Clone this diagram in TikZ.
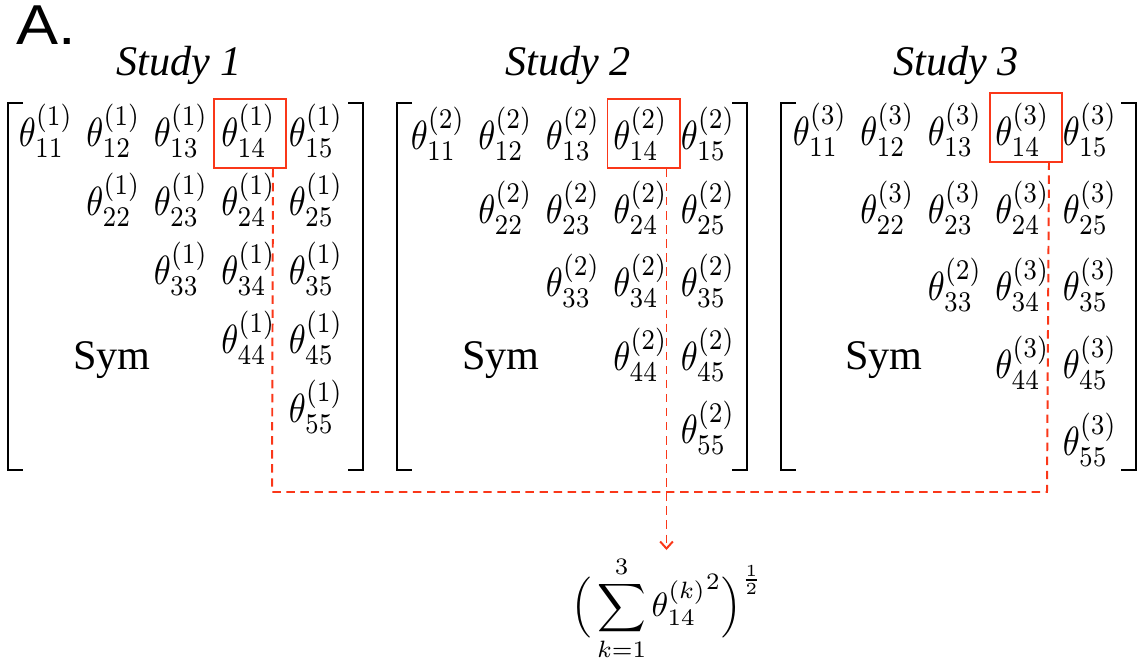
\RequirePackage{fix-cm}
\documentclass[tikz,border=0pt]{standalone}
\usepackage{amsmath}
\usepackage[no-math]{fontspec}
\setmainfont{Liberation Serif}
\newfontfamily\panelfont{Liberation Sans}
\usepackage{xcolor}
\usepackage{tikz}
\usetikzlibrary{positioning,arrows.meta,calc}
\definecolor{hired}{RGB}{250,55,25}

\begin{document}
\begin{tikzpicture}[x=0.025cm, y=-0.025cm,
  entry/.style={inner sep=0pt, xscale=2.45, yscale=2.9},
  study/.style={anchor=base, font=\fontsize{30}{36}\selectfont\itshape},
  symtext/.style={anchor=base, font=\fontsize{30}{36}\selectfont},
  hilite/.style={draw=hired, line width=1.4pt, minimum width=1.8cm, minimum height=1.72cm},
  link/.style={hired, line width=1.4pt, dash pattern=on 6pt off 4pt},
  bracket/.style={line width=1.4pt}]
\useasboundingbox (0,0) rectangle (1139,662);
% panel letter
\node[anchor=base west, inner sep=0pt, xscale=1.12, font=\panelfont\fontsize{40}{44}\selectfont] (panel) at (16,45) {A.};
% study titles
\node[study] (s1) at (179,76) {Study 1};
\node[study] (s2) at (568,76) {Study 2};
\node[study] (s3) at (956,76) {Study 3};
% upper triangles
\foreach \m/\cx/\ry/\rs in {1/46/131/69, 2/438/134/73.5, 3/820/130/77.5}{
  \foreach \i in {1,...,5}{
    \foreach \j in {\i,...,5}{
      \node[entry] (m\m-\i\j) at ({\cx+67.5*(\j-1)}, {\ry+\rs*(\i-1)})
        {$\theta_{\i\j}^{(\ifnum\m\i\j=333 2\else\m\fi)}$};
    }
  }
}
% brackets
\foreach \l/\r in {8/363, 397/747, 781/1136}{
  \draw[bracket] (\l+15,103) -- (\l,103) -- (\l,470) -- (\l+15,470);
  \draw[bracket] (\r-15,103) -- (\r,103) -- (\r,470) -- (\r-15,470);
}
% lower part
\node[symtext] (sym1) at (112,370) {Sym};
\node[symtext] (sym2) at (501,370) {Sym};
\node[symtext] (sym3) at (884,370) {Sym};
% highlighted entries
\node[hilite] (b1) at (250,133.5) {};
\node[hilite] (b2) at (643.5,133.5) {};
\node[hilite] (b3) at (1026,127.5) {};
% pooled norm
\node[xscale=2.4, yscale=2.4] (normsum) at (667,608)
  {$\Bigl(\,\displaystyle\sum_{k=1}^{3}{\theta_{14}^{(k)}}^{2}\Bigr)^{\frac{1}{2}}$};
% dashed links
\coordinate (t1) at ($(b1.south east)+(-14,0)$);
\coordinate (t2) at ($(b2.south east)+(-14,0)$);
\coordinate (t3) at ($(b3.south east)+(-14,0)$);
\coordinate (j1) at (272,492);
\coordinate (j3) at (1047,492);
\draw[link] (t1) -- (j1) -- (j3) -- (t3);
\draw[link, -{Straight Barb[length=5pt,width=9pt]}] (t2) -- (t2 |- 0,550);
\end{tikzpicture}
\end{document}
